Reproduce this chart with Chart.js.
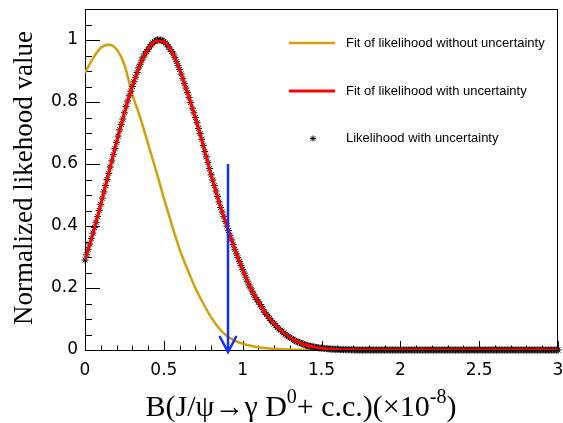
<!DOCTYPE html>
<html>
<head>
<meta charset="utf-8">
<script src="https://cdn.jsdelivr.net/npm/chart.js@4.4.0/dist/chart.umd.min.js"></script>
<style>
  html, body { margin: 0; padding: 0; background: #fff; }
</style>
</head>
<body>
<canvas id="chart" width="563" height="423"></canvas>
<script>
// fit curves, sampled every 0.05 from 0 to 3
const fitStep = 0.05;
const fitNoUncert = [
  0.895, 0.94, 0.975, 0.985, 0.97, 0.92, 0.825, 0.75, 0.665, 0.58,
  0.49, 0.405, 0.325, 0.26, 0.2, 0.15, 0.105, 0.07, 0.045, 0.03,
  0.02, 0.014, 0.009, 0.006, 0.004, 0.0025, 0.0015, 0.001, 0.0005, 0,
  0, 0, 0, 0, 0, 0, 0, 0, 0, 0,
  0, 0, 0, 0, 0, 0, 0, 0, 0, 0,
  0, 0, 0, 0, 0, 0, 0, 0, 0, 0,
  0
];
const fitWithUncert = [
  0.29, 0.375, 0.47, 0.57, 0.67, 0.765, 0.85, 0.92, 0.97, 0.997,
  0.995, 0.963, 0.905, 0.83, 0.75, 0.66, 0.565, 0.478, 0.4, 0.325,
  0.26, 0.2, 0.155, 0.115, 0.085, 0.06, 0.04, 0.026, 0.016, 0.01,
  0.006, 0.0035, 0.002, 0.001, 0.0005, 0, 0, 0, 0, 0,
  0, 0, 0, 0, 0, 0, 0, 0, 0, 0,
  0, 0, 0, 0, 0, 0, 0, 0, 0, 0,
  0
];

// likelihood scan points, every 0.01 from 0 to 3
const scanStep = 0.01;
const likelihood = [
  0.29, 0.307, 0.325, 0.342, 0.36, 0.377, 0.395, 0.412, 0.43, 0.45,
  0.47, 0.49, 0.51, 0.53, 0.55, 0.57, 0.59, 0.61, 0.63, 0.65,
  0.67, 0.69, 0.71, 0.728, 0.745, 0.765, 0.785, 0.803, 0.82, 0.835,
  0.85, 0.865, 0.88, 0.895, 0.91, 0.922, 0.935, 0.945, 0.955, 0.963,
  0.97, 0.978, 0.985, 0.99, 0.995, 0.998, 1.0, 1.0, 1.0, 0.998,
  0.995, 0.99, 0.985, 0.978, 0.97, 0.963, 0.955, 0.943, 0.93, 0.918,
  0.905, 0.89, 0.875, 0.86, 0.845, 0.83, 0.815, 0.798, 0.78, 0.765,
  0.75, 0.733, 0.715, 0.698, 0.68, 0.66, 0.64, 0.623, 0.605, 0.585,
  0.565, 0.548, 0.53, 0.513, 0.495, 0.478, 0.46, 0.445, 0.43, 0.415,
  0.4, 0.385, 0.37, 0.355, 0.34, 0.325, 0.31, 0.298, 0.285, 0.273,
  0.26, 0.248, 0.235, 0.222, 0.21, 0.2, 0.19, 0.18, 0.17, 0.162,
  0.155, 0.147, 0.14, 0.13, 0.12, 0.115, 0.11, 0.102, 0.095, 0.09,
  0.085, 0.079, 0.073, 0.068, 0.064, 0.06, 0.055, 0.051, 0.047, 0.043,
  0.04, 0.037, 0.034, 0.031, 0.028, 0.026, 0.024, 0.022, 0.02, 0.018,
  0.016, 0.0145, 0.013, 0.012, 0.011, 0.01, 0.009, 0.008, 0.007, 0.0065,
  0.006, 0.0055, 0.005, 0.0045, 0.004, 0.0035, 0.003, 0.0028, 0.0025, 0.0022,
  0.002, 0.0018, 0.0015, 0.0012, 0.001, 0.001, 0.001, 0.0008, 0.0007, 0.0006,
  0.0005, 0, 0, 0, 0, 0, 0, 0, 0, 0,
  0, 0, 0, 0, 0, 0, 0, 0, 0, 0,
  0, 0, 0, 0, 0, 0, 0, 0, 0, 0,
  0, 0, 0, 0, 0, 0, 0, 0, 0, 0,
  0, 0, 0, 0, 0, 0, 0, 0, 0, 0,
  0, 0, 0, 0, 0, 0, 0, 0, 0, 0,
  0, 0, 0, 0, 0, 0, 0, 0, 0, 0,
  0, 0, 0, 0, 0, 0, 0, 0, 0, 0,
  0, 0, 0, 0, 0, 0, 0, 0, 0, 0,
  0, 0, 0, 0, 0, 0, 0, 0, 0, 0,
  0, 0, 0, 0, 0, 0, 0, 0, 0, 0,
  0, 0, 0, 0, 0, 0, 0, 0, 0, 0,
  0, 0, 0, 0, 0, 0, 0, 0, 0, 0,
  0
];

const xTickLabels = ['0', '0.5', '1', '1.5', '2', '2.5', '3'];
const yTickLabels = ['0', '0.2', '0.4', '0.6', '0.8', '1'];

// upper limit arrow
const upperLimit = 0.907;
const arrowTop = 0.6;

const legendNames = [
  'Fit of likelihood without uncertainty',
  'Fit of likelihood with uncertainty',
  'Likelihood with uncertainty'
];

const GOLD = '#d4a00a';
const RED = '#ff0000';
const BLUE = '#1030ff';

function toPoints(vals, step) {
  return vals.map((v, i) => ({ x: +(i * step).toFixed(3), y: v }));
}

function fmt(v) {
  return String(+v.toFixed(2));
}

function drawStar(ctx, x, y, r) {
  ctx.save();
  ctx.strokeStyle = '#000';
  ctx.lineWidth = 1;
  ctx.beginPath();
  for (let k = 0; k < 4; k++) {
    const a = k * Math.PI / 4;
    ctx.moveTo(x - r * Math.cos(a), y - r * Math.sin(a));
    ctx.lineTo(x + r * Math.cos(a), y + r * Math.sin(a));
  }
  ctx.stroke();
  ctx.restore();
}

function noPad(s) {
  s.paddingLeft = 0;
  s.paddingRight = 0;
  s.paddingTop = 0;
  s.paddingBottom = 0;
}

const rootStyle = {
  id: 'rootStyle',
  beforeDatasetsDraw(chart) {
    const ctx = chart.ctx;
    const area = chart.chartArea;
    const xs = chart.scales.x, ys = chart.scales.y;
    ctx.save();
    ctx.strokeStyle = '#000';
    ctx.lineWidth = 1;
    // frame
    ctx.strokeRect(area.left + 0.5, area.top + 0.5, area.right - area.left - 1, area.bottom - area.top);
    // ticks inside the frame
    ctx.beginPath();
    xs.ticks.forEach(t => {
      const px = Math.round(xs.getPixelForValue(t.value)) + 0.5;
      const len = xTickLabels.includes(fmt(t.value)) ? 9 : 4.5;
      ctx.moveTo(px, area.bottom);
      ctx.lineTo(px, area.bottom - len);
    });
    ys.ticks.forEach(t => {
      const py = Math.round(ys.getPixelForValue(t.value)) + 0.5;
      const len = yTickLabels.includes(fmt(t.value)) ? 15 : 7;
      ctx.moveTo(area.left, py);
      ctx.lineTo(area.left + len, py);
    });
    ctx.stroke();
    ctx.restore();
  },
  afterDatasetsDraw(chart) {
    const ctx = chart.ctx;
    const xs = chart.scales.x, ys = chart.scales.y;
    const px = xs.getPixelForValue(upperLimit);
    const top = ys.getPixelForValue(arrowTop);
    const tip = ys.getPixelForValue(0) + 2;
    ctx.save();
    ctx.strokeStyle = BLUE;
    ctx.lineWidth = 2.5;
    ctx.beginPath();
    ctx.moveTo(px, top);
    ctx.lineTo(px, tip);
    ctx.moveTo(px - 8.5, tip - 16);
    ctx.lineTo(px, tip);
    ctx.lineTo(px + 8.5, tip - 16);
    ctx.stroke();
    ctx.restore();
  },
  afterDraw(chart) {
    const ctx = chart.ctx;
    ctx.save();
    ctx.fillStyle = '#000';

    // y title
    ctx.save();
    ctx.translate(32, 178);
    ctx.rotate(-Math.PI / 2);
    ctx.font = '27px "Liberation Serif"';
    ctx.textAlign = 'center';
    ctx.textBaseline = 'alphabetic';
    ctx.fillText('Normalized likehood value', 0, 0);
    ctx.restore();

    // x title with superscripts
    const main = '30px "Liberation Serif"';
    const sup = '20px "Liberation Serif"';
    const parts = [
      ['B(J/\u03c8\u2192\u03b3 D', main, 0],
      ['0', sup, -13],
      ['+ c.c.)(\u00d710', main, 0],
      ['-8', sup, -13],
      [')', main, 0]
    ];
    let total = 0;
    parts.forEach(p => { ctx.font = p[1]; total += ctx.measureText(p[0]).width; });
    let cx = 301 - total / 2;
    ctx.textAlign = 'left';
    ctx.textBaseline = 'alphabetic';
    parts.forEach(p => {
      ctx.font = p[1];
      ctx.fillText(p[0], cx, 416 + p[2]);
      cx += ctx.measureText(p[0]).width;
    });

    // legend
    ctx.font = '13px "Liberation Sans"';
    ctx.lineWidth = 2.5;
    ctx.strokeStyle = GOLD;
    ctx.beginPath(); ctx.moveTo(289, 43); ctx.lineTo(335, 43); ctx.stroke();
    ctx.fillText(legendNames[0], 346, 47);
    ctx.lineWidth = 3;
    ctx.strokeStyle = RED;
    ctx.beginPath(); ctx.moveTo(289, 91); ctx.lineTo(335, 91); ctx.stroke();
    ctx.fillText(legendNames[1], 346, 95);
    drawStar(ctx, 313, 138.5, 3);
    ctx.fillText(legendNames[2], 346, 142);
    ctx.restore();
  }
};

new Chart(document.getElementById('chart'), {
  type: 'scatter',
  data: {
    datasets: [
      {
        label: legendNames[1],
        data: toPoints(fitWithUncert, fitStep),
        showLine: true,
        borderColor: RED,
        borderWidth: 3,
        pointRadius: 0,
        cubicInterpolationMode: 'monotone',
        order: 0
      },
      {
        label: legendNames[2],
        data: toPoints(likelihood, scanStep),
        showLine: false,
        pointStyle: 'star',
        pointRadius: 3.5,
        borderColor: '#000',
        backgroundColor: '#000',
        borderWidth: 1,
        clip: false,
        order: 1
      },
      {
        label: legendNames[0],
        data: toPoints(fitNoUncert, fitStep),
        showLine: true,
        borderColor: GOLD,
        borderWidth: 2.5,
        pointRadius: 0,
        cubicInterpolationMode: 'monotone',
        order: 2
      }
    ]
  },
  options: {
    responsive: false,
    animation: false,
    devicePixelRatio: 1,
    layout: { autoPadding: false, padding: { top: 9, right: 5, left: 0, bottom: 0 } },
    plugins: { legend: { display: false }, tooltip: { enabled: false } },
    scales: {
      x: {
        type: 'linear',
        min: 0,
        max: 3,
        grid: { display: false, drawTicks: false },
        border: { display: false },
        ticks: {
          stepSize: 0.1,
          autoSkip: false,
          maxRotation: 0,
          padding: 10,
          color: '#000',
          font: { family: '"DejaVu Sans"', size: 17 },
          callback: v => (xTickLabels.includes(fmt(v)) ? fmt(v) : '')
        },
        afterFit: s => { s.height = 73; noPad(s); }
      },
      y: {
        min: 0,
        max: 1.1,
        grid: { display: false, drawTicks: false },
        border: { display: false },
        ticks: {
          stepSize: 0.05,
          autoSkip: false,
          padding: 7,
          color: '#000',
          font: { family: '"DejaVu Sans"', size: 17 },
          callback: v => (yTickLabels.includes(fmt(v)) ? fmt(v) : '')
        },
        afterFit: s => { s.width = 85; noPad(s); }
      }
    }
  },
  plugins: [rootStyle]
});
</script>
</body>
</html>
